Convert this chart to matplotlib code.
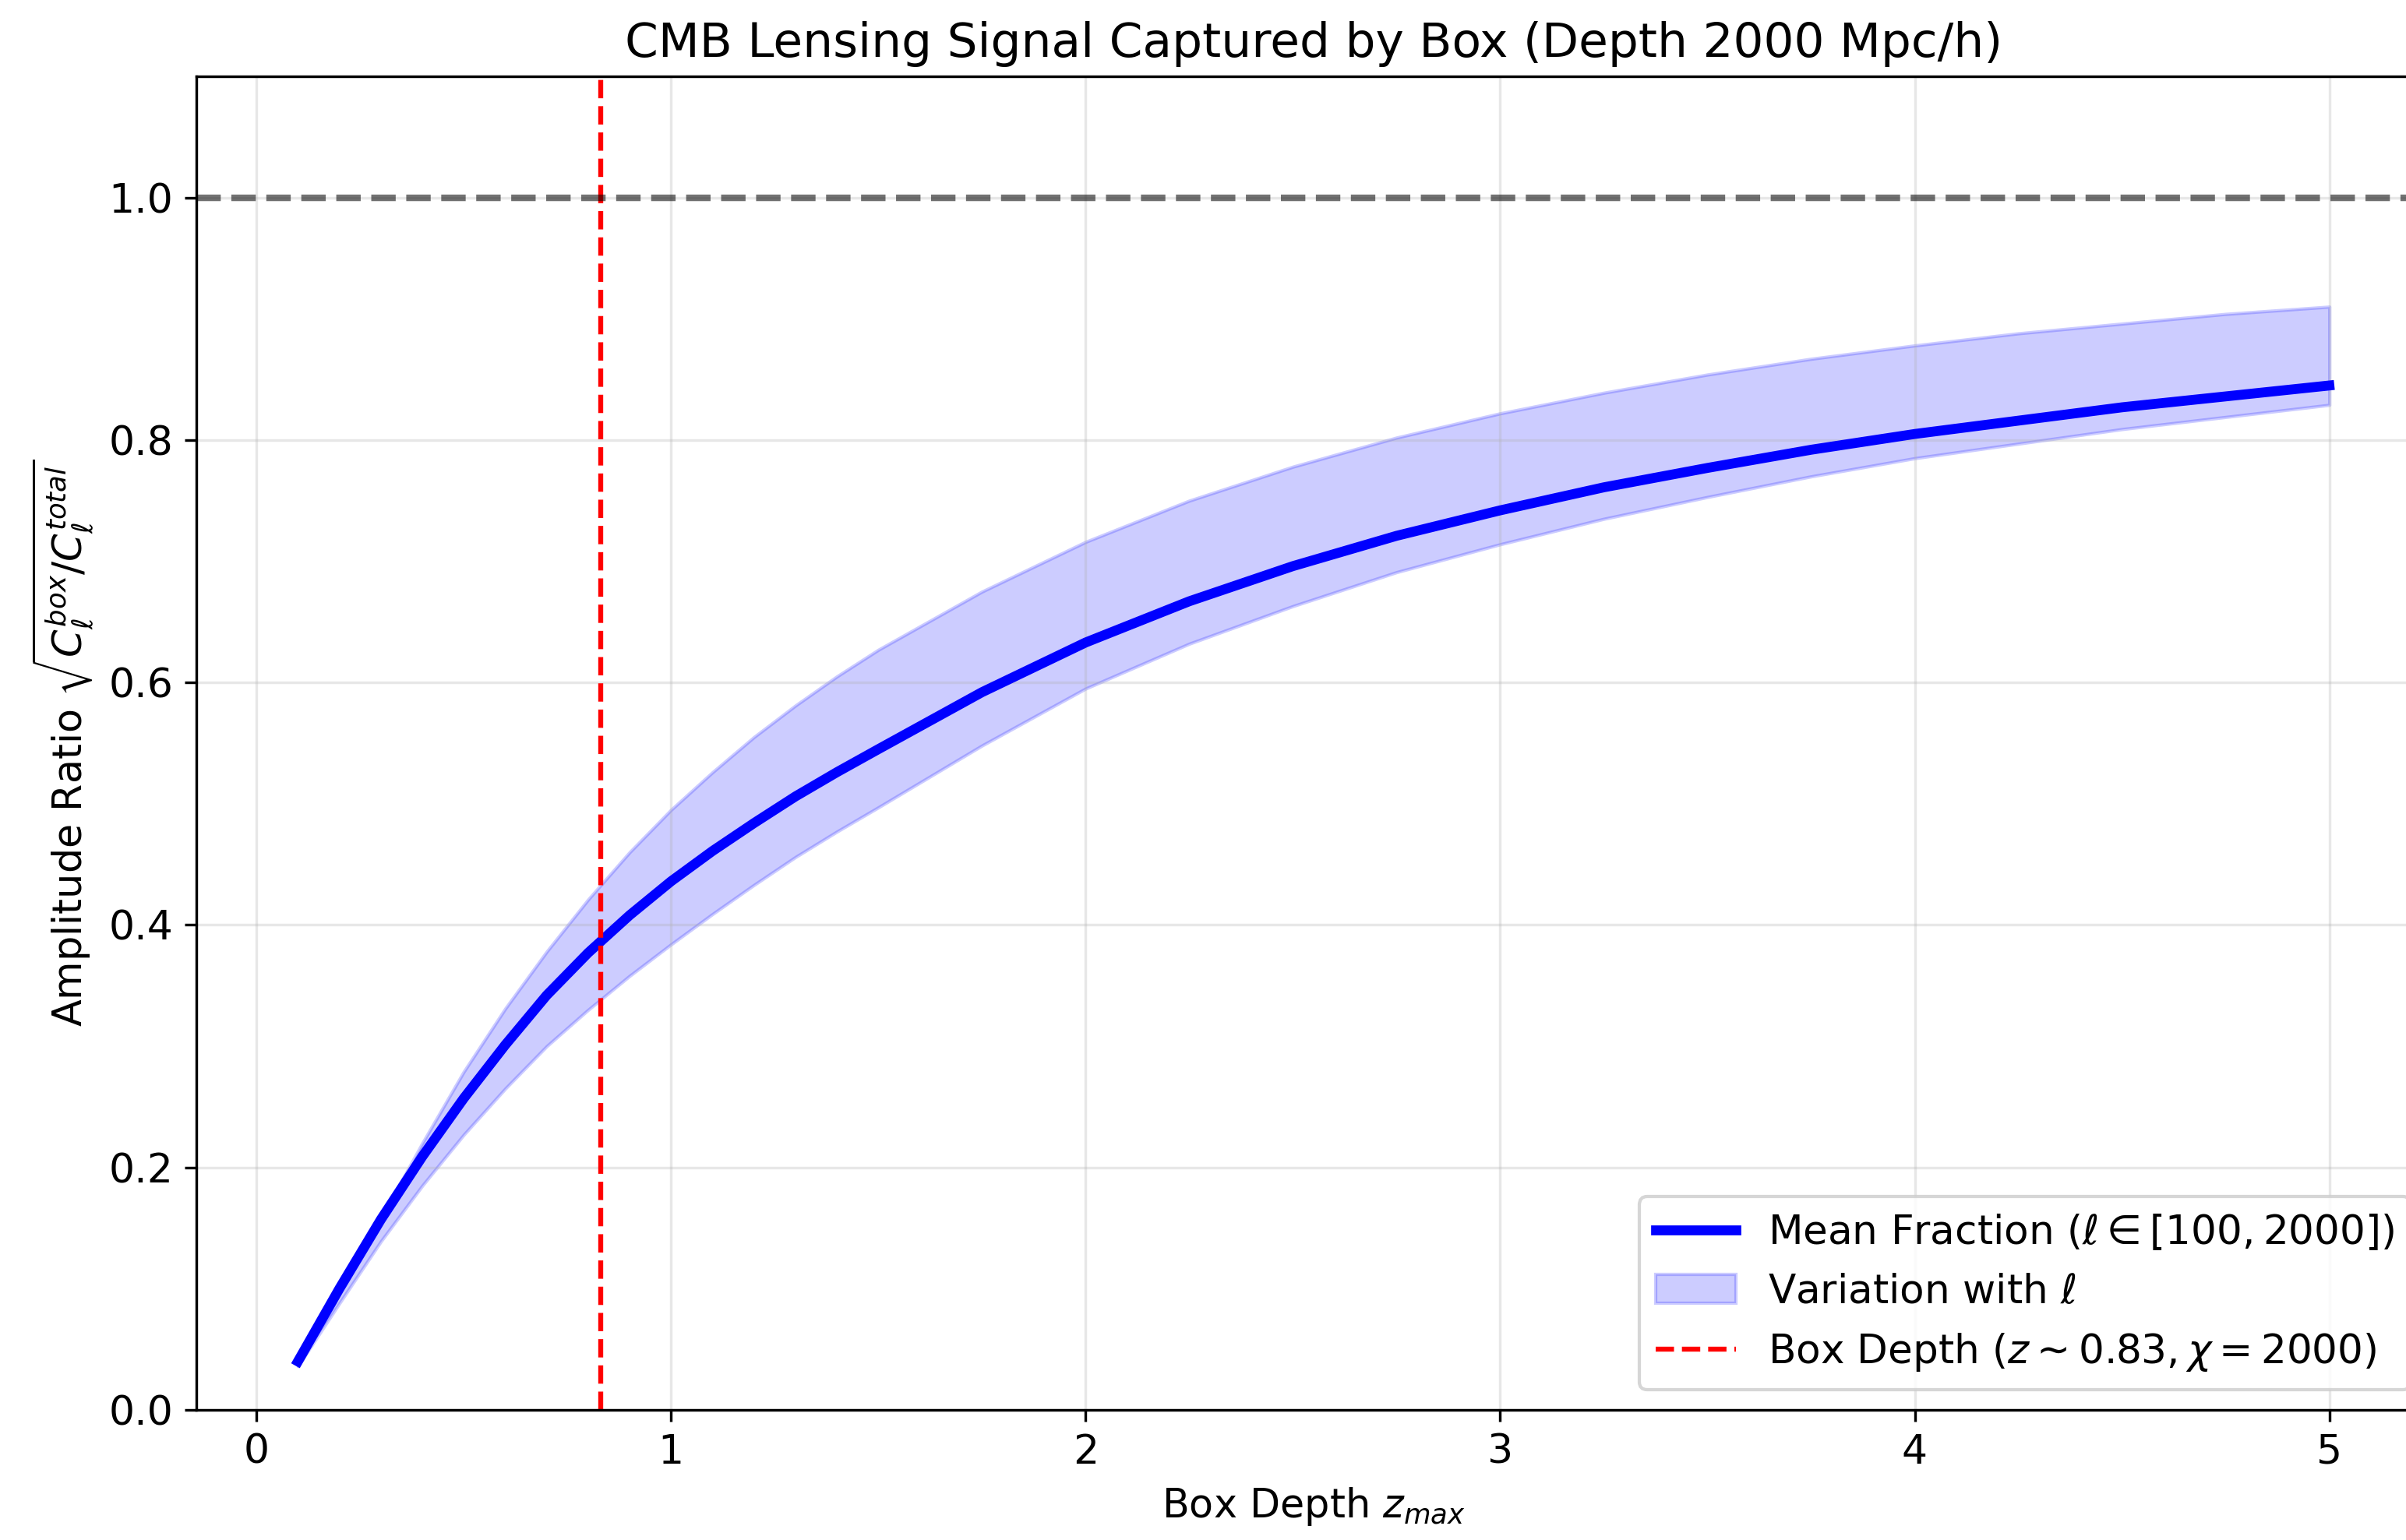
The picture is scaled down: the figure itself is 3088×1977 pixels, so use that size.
import matplotlib
matplotlib.use("Agg")
import matplotlib.pyplot as plt

# Box depth (redshift) sample points
z_max = [0.1, 0.2, 0.3, 0.4, 0.5, 0.6, 0.7, 0.8, 0.9, 1.0, 1.1, 1.2, 1.3, 1.4, 1.5,
         1.75, 2.0, 2.25, 2.5, 2.75, 3.0, 3.25, 3.5, 3.75, 4.0, 4.25, 4.5, 4.75, 5.0]

# Mean amplitude ratio over ell in [100, 2000]
mean_frac = [0.040, 0.100, 0.157, 0.209, 0.257, 0.301, 0.342, 0.377, 0.408, 0.436,
             0.461, 0.484, 0.506, 0.526, 0.545, 0.592, 0.633, 0.667, 0.696, 0.721,
             0.742, 0.761, 0.777, 0.792, 0.805, 0.816, 0.827, 0.836, 0.845]

# Spread of the ratio across ell
upper_frac = [0.038, 0.097, 0.158, 0.220, 0.279, 0.331, 0.378, 0.421, 0.460, 0.495,
              0.526, 0.555, 0.581, 0.605, 0.627, 0.675, 0.716, 0.750, 0.778, 0.802,
              0.822, 0.839, 0.854, 0.867, 0.878, 0.888, 0.896, 0.904, 0.910]
lower_frac = [0.036, 0.088, 0.139, 0.185, 0.227, 0.265, 0.300, 0.330, 0.358, 0.384,
              0.409, 0.433, 0.456, 0.477, 0.497, 0.548, 0.595, 0.632, 0.663, 0.691,
              0.714, 0.735, 0.753, 0.770, 0.785, 0.797, 0.809, 0.819, 0.829]

z_box = 0.83

DPI = 305
fig = plt.figure(figsize=(3088 / DPI, 1977 / DPI), dpi=DPI)
plt.rcParams["font.size"] = 12
ax = fig.add_axes([252 / 3088, 1 - 1810 / 1977, (3120 - 252) / 3088, (1810 - 98) / 1977])

ax.plot(z_max, mean_frac, color="blue", lw=3,
        label=r"Mean Fraction ($\ell \in [100, 2000]$)")
ax.fill_between(z_max, lower_frac, upper_frac, color="blue", alpha=0.2,
                label=r"Variation with $\ell$")
ax.axvline(z_box, color="red", ls="--", lw=1.5,
           label=r"Box Depth ($z \sim 0.83, \chi = 2000$)")
ax.axhline(1.0, color="k", alpha=0.55, ls="--", lw=2)

ax.set_ylim(0, 1.1)
ax.set_yticks([0.0, 0.2, 0.4, 0.6, 0.8, 1.0])
ax.grid(True, alpha=0.3)

ax.set_xlabel(r"Box Depth $z_{max}$", fontsize=12)
ax.set_ylabel(r"Amplitude Ratio $\sqrt{C_\ell^{box}/C_\ell^{total}}$", fontsize=12)
ax.set_title("CMB Lensing Signal Captured by Box (Depth 2000 Mpc/h)", fontsize=14.5)
ax.tick_params(labelsize=12.3)
ax.legend(loc="lower right", fontsize=12.2)

fig.savefig("out.png", dpi=DPI)
